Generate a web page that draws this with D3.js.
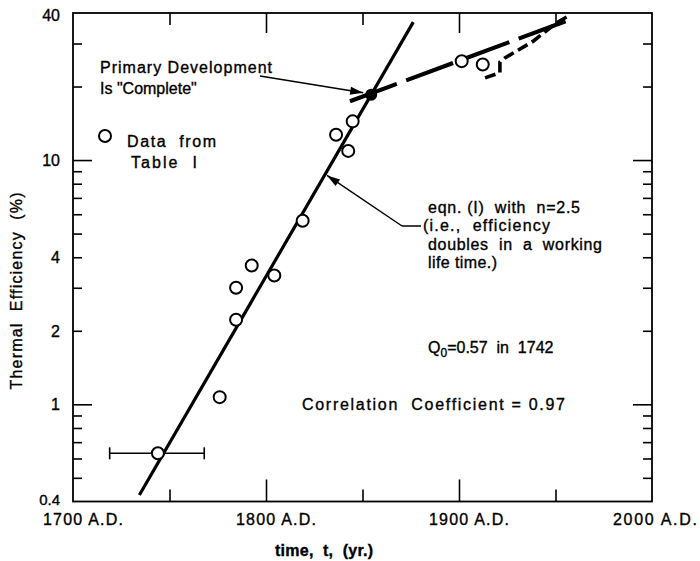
<!DOCTYPE html>
<html><head><meta charset="utf-8">
<script src="https://cdn.jsdelivr.net/npm/d3@7"></script>
<style>
body{margin:0;background:#fff;}
text{font-family:"Liberation Sans",Arial,sans-serif;fill:#000;white-space:pre;stroke:#000;stroke-width:0.35px;}
</style></head>
<body><svg id="c" width="700" height="561"></svg>
<script>
// ---- data ----
const years      = [1744, 1776, 1784.5, 1784.5, 1792.6, 1804.3, 1819, 1836.3, 1842.6, 1844.9, 1901.4, 1912.3];
const efficiency = [0.63, 1.07, 3.0, 2.22, 3.7, 3.37, 5.64, 12.7, 10.9, 14.4, 25.4, 24.6];
const errorBarYears = [1719, 1768];            // horizontal error bar on the first point
const fitYears   = [1734.4, 1876.3];           // eqn.(1), n = 2.5
const fitValues  = [0.425, 36.7];
const completeYear = [1854.5], completeValue = [18.5];
const trendYears  = [1843.5, 1957.5];          // long dashed line
const trendValues = [17.4, 37.6];
const stepYears  = [1913.5, 1921.2, 1921.2, 1923.8, 1938.3, 1950.6, 1956.5];   // short dashed line
const stepValues = [21.7, 22.8, 25.2, 26.2, 30.6, 36.5, 38.8];
const xMajorTicks = [1800, 1900], xMinorTicks = [1750, 1850, 1950];
const xTickLabels = [1700, 1800, 1900, 2000];
const yMajorTicks = [1, 10];
const yMinorTicks = [0.5, 0.6, 0.7, 0.8, 0.9, 2, 3, 4, 5, 6, 7, 8, 9, 20, 30];
const yTickLabels = [0.4, 1, 2, 4, 10, 40];

// ---- layout ----
const L = 73, R = 652, T = 13, B = 501.5;
const svg = d3.select("#c");
const x = d3.scaleLinear().domain([1700, 2000]).range([L, R]);
const y = d3.scaleLog().domain([0.4, 40]).range([B, T]);
const FS = 16;

function addAxis(axis, tx, ty) {
  const g = svg.append("g").attr("transform", `translate(${tx},${ty})`).call(axis);
  g.select(".domain").remove();
  g.selectAll("line").attr("stroke", "#000").attr("stroke-width", 1.6);
  g.selectAll("text").remove();
}
addAxis(d3.axisBottom(x).tickValues(xMajorTicks).tickSize(-22).tickFormat(""), 0, B);
addAxis(d3.axisBottom(x).tickValues(xMinorTicks).tickSize(-12).tickFormat(""), 0, B);
addAxis(d3.axisTop(x).tickValues(xMajorTicks).tickSize(-20).tickFormat(""), 0, T);
addAxis(d3.axisTop(x).tickValues(xMinorTicks).tickSize(-12).tickFormat(""), 0, T);
addAxis(d3.axisLeft(y).tickValues(yMajorTicks).tickSize(-19).tickFormat(""), L, 0);
addAxis(d3.axisLeft(y).tickValues(yMinorTicks).tickSize(-9).tickFormat(""), L, 0);
addAxis(d3.axisRight(y).tickValues(yMajorTicks).tickSize(-19).tickFormat(""), R, 0);
addAxis(d3.axisRight(y).tickValues(yMinorTicks).tickSize(-9).tickFormat(""), R, 0);

svg.append("rect").attr("x", L).attr("y", T).attr("width", R - L).attr("height", B - T)
  .attr("fill", "none").attr("stroke", "#000").attr("stroke-width", 1.8);

// tick labels
xTickLabels.forEach((v, i) => {
  const last = i === xTickLabels.length - 1;
  svg.append("text").attr("x", last ? 697 : x(v) - 30).attr("y", 525)
    .attr("text-anchor", last ? "end" : "start").attr("font-size", FS)
    .attr("textLength", last ? 84 : 80).attr("lengthAdjust", "spacing")
    .text(v + " A.D.");
});
yTickLabels.forEach(v => {
  const yy = v === 40 ? 21 : (v === 0.4 ? 505 : y(v) + 6);
  svg.append("text").attr("x", 60).attr("y", yy).attr("text-anchor", "end")
    .attr("font-size", v === 0.4 ? 15 : FS).text(v);
});

// axis titles
svg.append("text").attr("transform", "translate(22,291) rotate(-90)")
  .attr("text-anchor", "middle").attr("font-size", FS)
  .attr("textLength", 197).attr("lengthAdjust", "spacing")
  .text("Thermal  Efficiency  (%)");
svg.append("text").attr("x", 275).attr("y", 556).attr("font-size", FS).attr("font-weight", "bold")
  .attr("textLength", 98).attr("lengthAdjust", "spacing")
  .text("time,  t,  (yr.)");

const line = d3.line().x(d => x(d[0])).y(d => y(d[1]));

// fit line
svg.append("path").datum(d3.zip(fitYears, fitValues)).attr("d", line)
  .attr("fill", "none").attr("stroke", "#000").attr("stroke-width", 3.2);
// long dashed line
svg.append("path").datum(d3.zip(trendYears, trendValues)).attr("d", line)
  .attr("fill", "none").attr("stroke", "#000").attr("stroke-width", 4.2)
  .attr("stroke-dasharray", "50,10");
// short dashed step line
svg.append("path").datum(d3.zip(stepYears, stepValues)).attr("d", line)
  .attr("fill", "none").attr("stroke", "#000").attr("stroke-width", 3.6)
  .attr("stroke-dasharray", "11,5");

// error bar
const ey = y(efficiency[0]);
svg.append("line").attr("x1", x(errorBarYears[0])).attr("x2", x(errorBarYears[1]))
  .attr("y1", ey).attr("y2", ey).attr("stroke", "#000").attr("stroke-width", 1.6);
errorBarYears.forEach(v => svg.append("line").attr("x1", x(v)).attr("x2", x(v))
  .attr("y1", ey - 6).attr("y2", ey + 6).attr("stroke", "#000").attr("stroke-width", 1.6));

// data points
svg.append("g").selectAll("circle").data(d3.zip(years, efficiency)).join("circle")
  .attr("cx", d => x(d[0])).attr("cy", d => y(d[1])).attr("r", 6)
  .attr("fill", "#fff").attr("stroke", "#000").attr("stroke-width", 2);
svg.append("g").selectAll("circle").data(d3.zip(completeYear, completeValue)).join("circle")
  .attr("cx", d => x(d[0])).attr("cy", d => y(d[1])).attr("r", 6).attr("fill", "#000");

// arrows
function arrow(x1, y1, x2, y2) {
  svg.append("line").attr("x1", x1).attr("y1", y1).attr("x2", x2).attr("y2", y2)
    .attr("stroke", "#000").attr("stroke-width", 1.5);
  const a = Math.atan2(y2 - y1, x2 - x1), len = 13, w = 4;
  const bx = x2 - len * Math.cos(a), by = y2 - len * Math.sin(a);
  const px = -Math.sin(a) * w, py = Math.cos(a) * w;
  svg.append("path").attr("d", `M${x2},${y2}L${bx + px},${by + py}L${bx - px},${by - py}Z`).attr("fill", "#000");
}
arrow(260, 76, x(completeYear[0]) - 8, y(completeValue[0]) - 2);
// arrow to the fit line
const tipYear = 1830.6;
const f = (tipYear - fitYears[0]) / (fitYears[1] - fitYears[0]);
const tipVal = Math.exp(Math.log(fitValues[0]) + f * (Math.log(fitValues[1]) - Math.log(fitValues[0])));
arrow(402, 226, x(tipYear) + 2, y(tipVal) + 1);
svg.append("line").attr("x1", 402).attr("x2", 421).attr("y1", 226).attr("y2", 226)
  .attr("stroke", "#000").attr("stroke-width", 1.5);

// annotations
function txt(s, xx, yy, w) {
  const t = svg.append("text").attr("x", xx).attr("y", yy).attr("font-size", FS).text(s);
  if (w) t.attr("textLength", w).attr("lengthAdjust", "spacing");
  return t;
}
txt("Primary Development", 100, 73, 172);
txt("Is \"Complete\"", 100, 94);
svg.append("circle").attr("cx", 105).attr("cy", 136).attr("r", 6)
  .attr("fill", "#fff").attr("stroke", "#000").attr("stroke-width", 2);
txt("Data  from", 127, 147, 89);
txt("Table  I", 131, 168, 66);
txt("eqn. (I)  with  n=2.5", 428, 213, 152);
txt("(i.e.,  efficiency", 423, 231, 127);
txt("doubles  in  a  working", 428, 250, 174);
txt("life time.)", 428, 268, 69);
const q = svg.append("text").attr("x", 428).attr("y", 353).attr("font-size", FS);
q.append("tspan").text("Q");
q.append("tspan").attr("dy", 4).attr("font-size", 12).text("0");
q.append("tspan").attr("dy", -4).text("=0.57  in  1742");
txt("Correlation  Coefficient = 0.97", 302, 410, 263);
</script></body></html>
